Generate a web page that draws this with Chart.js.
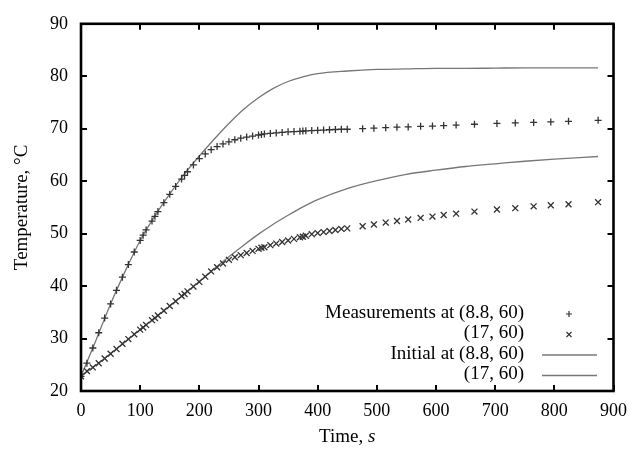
<!DOCTYPE html>
<html>
<head>
<meta charset="utf-8">
<script src="https://cdn.jsdelivr.net/npm/chart.js@4/dist/chart.umd.min.js"></script>
<style>
  html, body { margin: 0; padding: 0; background: #fff; }
  #wrap { width: 636px; height: 455px; }
</style>
</head>
<body>
<div id="wrap"><canvas id="chart1"></canvas></div>
<script>
// measurement times, s
const measTimes = [0, 10, 20, 30, 40, 50, 60, 70, 80, 90, 100, 105, 110, 120, 125, 130, 140, 150, 160, 170, 175,
    180, 190, 200, 210, 220, 230, 240, 250, 260, 270, 280, 290, 300, 305, 310, 320, 330, 340, 350, 360, 370, 375,
    380, 390, 400, 410, 420, 430, 440, 450, 476, 495, 515, 534, 553, 574, 594, 613, 634, 665, 703, 734, 765, 794, 824, 874];
// Measurements at (8.8, 60)
const meas88 = [22.8, 25.3, 28.2, 31.1, 33.9, 36.6, 39.2, 41.7, 44.1, 46.5, 48.7, 49.7, 50.7, 52.4, 53.3, 54.2, 55.9,
    57.5, 59.0, 60.4, 61.1, 61.8, 63.1, 64.3, 65.2, 66.0, 66.6, 67.1, 67.5, 67.9, 68.2, 68.4, 68.6, 68.8, 68.9, 69.0,
    69.1, 69.2, 69.3, 69.4, 69.45, 69.5, 69.55, 69.6, 69.65, 69.7, 69.75, 69.8, 69.85, 69.9, 69.9, 70.0, 70.1, 70.2,
    70.3, 70.35, 70.45, 70.5, 70.6, 70.7, 70.85, 71.0, 71.1, 71.2, 71.3, 71.4, 71.6];
// Measurements at (17, 60)
const meas17 = [22.8, 23.8, 24.5, 25.3, 26.2, 27.1, 28.0, 29.0, 29.9, 30.8, 31.7, 32.1, 32.6, 33.5, 33.9, 34.4, 35.3,
    36.2, 37.1, 38.1, 38.5, 39.0, 39.9, 40.8, 41.8, 42.8, 43.6, 44.3, 45.0, 45.5, 45.9, 46.3, 46.7, 47.1, 47.3, 47.4,
    47.8, 48.1, 48.4, 48.7, 49.0, 49.3, 49.4, 49.6, 49.9, 50.1, 50.3, 50.5, 50.7, 50.9, 51.0, 51.4, 51.75, 52.1, 52.4,
    52.7, 53.0, 53.25, 53.55, 53.8, 54.2, 54.6, 54.85, 55.2, 55.4, 55.6, 56.0];

// initial (model) curves
const initTimes = [0, 25, 50, 75, 100, 125, 150, 175, 200, 225, 250, 275, 300, 325, 350, 375, 400, 450, 500, 550, 600,
    650, 700, 750, 800, 874];
const init88 = [22.8, 29.6, 36.6, 42.9, 48.7, 53.4, 57.6, 61.4, 64.8, 68.0, 71.0, 73.7, 75.9, 77.7, 79.0, 79.9, 80.5,
    81.0, 81.3, 81.4, 81.5, 81.5, 81.55, 81.6, 81.6, 81.6];
const init17 = [22.8, 24.9, 27.1, 29.4, 31.7, 33.9, 36.2, 38.5, 40.9, 43.3, 45.6, 47.8, 49.9, 51.8, 53.5, 55.1, 56.5,
    58.6, 60.1, 61.3, 62.1, 62.8, 63.3, 63.8, 64.2, 64.7];

const xTicks = [0, 100, 200, 300, 400, 500, 600, 700, 800, 900];
const yTicks = [20, 30, 40, 50, 60, 70, 80, 90];

const labels = ['Measurements at (8.8, 60)', '(17, 60)', 'Initial at (8.8, 60)', '(17, 60)'];

const serif = "'Liberation Serif', 'DejaVu Serif', serif";

function pts(xs, ys) {
    return xs.map((x, i) => ({ x: x, y: ys[i] }));
}

// frame, inward ticks, axis titles and the legend (gnuplot style)
const framePlugin = {
    id: 'frame',
    afterDraw(chart) {
        const ctx = chart.ctx;
        const a = chart.chartArea;
        const xs = chart.scales.x, ys = chart.scales.y;
        ctx.save();
        ctx.strokeStyle = '#000';
        ctx.lineWidth = 2;
        xTicks.forEach(v => {
            const px = Math.round(xs.getPixelForValue(v));
            ctx.beginPath();
            ctx.moveTo(px, a.bottom); ctx.lineTo(px, a.bottom - 6);
            ctx.moveTo(px, a.top); ctx.lineTo(px, a.top + 6);
            ctx.stroke();
        });
        yTicks.forEach(v => {
            const py = Math.round(ys.getPixelForValue(v));
            ctx.beginPath();
            ctx.moveTo(a.left, py); ctx.lineTo(a.left + 6, py);
            ctx.moveTo(a.right, py); ctx.lineTo(a.right - 6, py);
            ctx.stroke();
        });
        ctx.lineWidth = 2.6;
        ctx.strokeRect(a.left, a.top, a.right - a.left, a.bottom - a.top);

        // axis titles
        ctx.fillStyle = '#000';
        ctx.textBaseline = 'middle';
        const t1 = 'Time, ';
        ctx.font = '19px ' + serif;
        const w1 = ctx.measureText(t1).width;
        ctx.font = 'italic 19px ' + serif;
        const w2 = ctx.measureText('s').width;
        const cx = (a.left + a.right) / 2 - (w1 + w2) / 2;
        ctx.textAlign = 'left';
        ctx.font = '19px ' + serif;
        ctx.fillText(t1, cx, 437);
        ctx.font = 'italic 19px ' + serif;
        ctx.fillText('s', cx + w1, 437);

        ctx.save();
        ctx.translate(22, (a.top + a.bottom) / 2);
        ctx.rotate(-Math.PI / 2);
        ctx.textAlign = 'center';
        ctx.font = '19px ' + serif;
        ctx.fillText('Temperature, \u00B0C', 0, 0);
        ctx.restore();

        // legend, text right aligned, sample on the right
        const rows = [313, 333.5, 354, 374.5];
        chart.data.datasets.forEach((ds, i) => {
            const y = rows[i];
            ctx.textAlign = 'right';
            ctx.font = '19px ' + serif;
            ctx.fillStyle = '#000';
            ctx.fillText(ds.label, 524, y);
            ctx.strokeStyle = ds.borderColor;
            ctx.beginPath();
            if (ds.showLine) {
                ctx.lineWidth = 1.3;
                ctx.moveTo(542, y + 1); ctx.lineTo(597, y + 1);
            } else if (ds.pointStyle === 'cross') {
                ctx.lineWidth = 1.2;
                ctx.moveTo(566, y + 1); ctx.lineTo(572, y + 1);
                ctx.moveTo(569, y - 2); ctx.lineTo(569, y + 4);
            } else {
                ctx.lineWidth = 1.2;
                ctx.moveTo(566.5, y - 1.5); ctx.lineTo(571.5, y + 3.5);
                ctx.moveTo(571.5, y - 1.5); ctx.lineTo(566.5, y + 3.5);
            }
            ctx.stroke();
        });
        ctx.restore();
    }
};

const ctx = document.getElementById('chart1');
new Chart(ctx, {
    type: 'scatter',
    data: {
        datasets: [{
            label: labels[0],
            data: pts(measTimes, meas88),
            pointStyle: 'cross',
            pointRadius: 3.5,
            borderWidth: 1.3,
            borderColor: '#333',
            backgroundColor: '#333',
            showLine: false
        }, {
            label: labels[1],
            data: pts(measTimes, meas17),
            pointStyle: 'crossRot',
            pointRadius: 4.2,
            borderWidth: 1.3,
            borderColor: '#333',
            backgroundColor: '#333',
            showLine: false
        }, {
            label: labels[2],
            data: pts(initTimes, init88),
            showLine: true,
            pointRadius: 0,
            borderWidth: 1.3,
            borderColor: '#777',
            cubicInterpolationMode: 'monotone'
        }, {
            label: labels[3],
            data: pts(initTimes, init17),
            showLine: true,
            pointRadius: 0,
            borderWidth: 1.3,
            borderColor: '#777',
            cubicInterpolationMode: 'monotone'
        }]
    },
    plugins: [framePlugin],
    options: {
        responsive: true,
        maintainAspectRatio: false,
        animation: false,
        layout: { padding: { top: 12, right: 15, left: 0, bottom: 0 } },
        plugins: {
            legend: { display: false },
            tooltip: { enabled: false }
        },
        scales: {
            x: {
                type: 'linear',
                min: 0,
                max: 900,
                afterFit: s => { s.height = 64; },
                afterBuildTicks: s => { s.ticks = xTicks.map(v => ({ value: v })); },
                grid: { display: false, drawTicks: false },
                border: { display: false },
                ticks: { color: '#000', padding: 9, maxRotation: 0, font: { family: serif, size: 18 } }
            },
            y: {
                min: 20,
                max: 90,
                afterFit: s => { s.width = 81; },
                afterBuildTicks: s => { s.ticks = yTicks.map(v => ({ value: v })); },
                grid: { display: false, drawTicks: false },
                border: { display: false },
                ticks: { color: '#000', padding: 13, font: { family: serif, size: 18 } }
            }
        }
    }
});
</script>
</body>
</html>
